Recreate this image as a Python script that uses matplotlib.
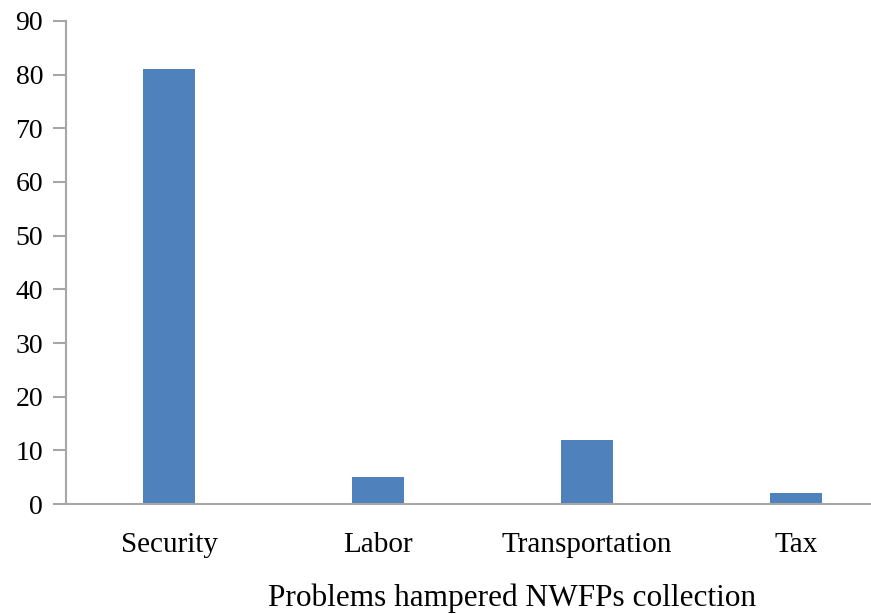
import matplotlib.pyplot as plt
import numpy as np

plt.rcParams['font.family'] = ['Liberation Serif', 'DejaVu Serif']

categories = ['Security', 'Labor', 'Transportation', 'Tax']
values = [81, 5, 12, 2]
yticks = [0, 10, 20, 30, 40, 50, 60, 70, 80, 90]

fig = plt.figure(figsize=(8.71, 6.14), dpi=100)
ax = fig.add_axes([0.0758, 0.179, 0.9242, 0.787])

x = np.arange(len(categories))
ax.bar(x, values, width=0.245, color='#4f81bd')

ax.set_xlim(-0.493, 3.359)
ax.set_ylim(0, 90)
ax.set_yticks(yticks)
ax.set_xticks(x)
ax.set_xticklabels(categories, fontsize=21)
ax.tick_params(axis='y', labelsize=20, length=9.5, width=1.5, color='#a6a6a6', pad=7)
ax.tick_params(axis='x', length=0, pad=20)

for s in ['top', 'right']:
    ax.spines[s].set_visible(False)
for s in ['left', 'bottom']:
    ax.spines[s].set_color('#a6a6a6')
    ax.spines[s].set_linewidth(1.5)

ax.set_xlabel('Problems hampered NWFPs collection', fontsize=22.5)
ax.xaxis.set_label_coords(0.554, -0.195)
ax.xaxis.label.set_va('center')

plt.savefig('out.png', dpi=100)
